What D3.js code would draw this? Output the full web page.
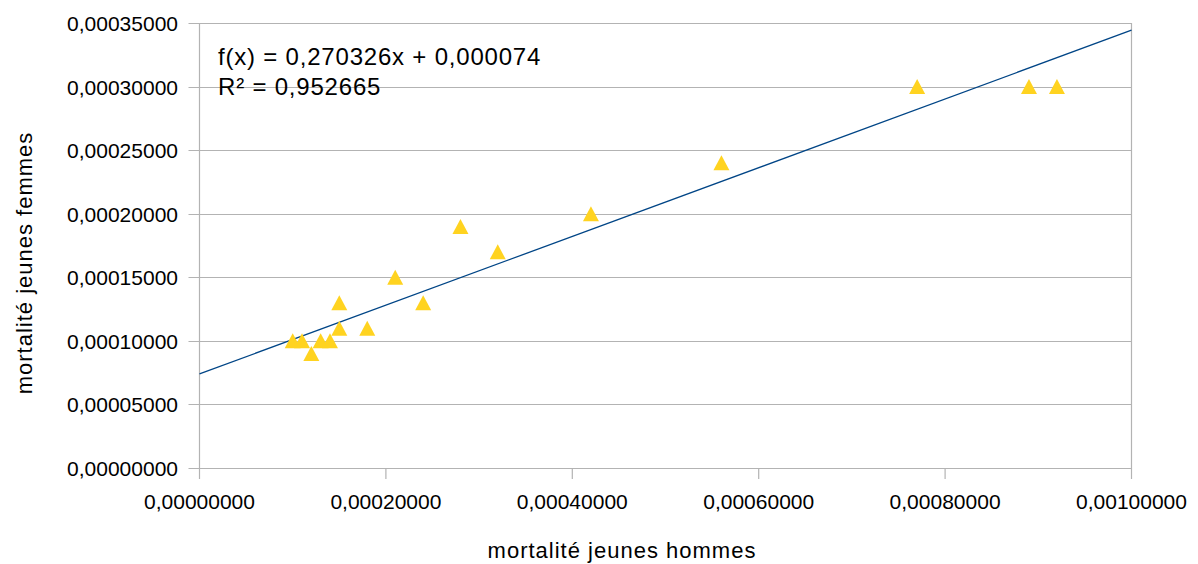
<!DOCTYPE html>
<html>
<head>
<meta charset="utf-8">
<script src="https://cdn.jsdelivr.net/npm/d3@7"></script>
<style>
  body { margin: 0; background: #fff; }
  svg text { font-family: "Liberation Sans", Arial, sans-serif; fill: #000; }
</style>
</head>
<body>
<div id="chart"></div>
<script>
// mortalité jeunes hommes vs jeunes femmes, scatter + linear trend

const hommes = [0.00010, 0.00011, 0.00012, 0.00013, 0.00014, 0.00015, 0.00015, 0.00018,
  0.00021, 0.00024, 0.00028, 0.00032, 0.00042, 0.00056, 0.00077, 0.00089, 0.00092];
const femmes = [0.00010, 0.00010, 0.00009, 0.00010, 0.00010, 0.00011, 0.00013, 0.00011,
  0.00015, 0.00013, 0.00019, 0.00017, 0.00020, 0.00024, 0.00030, 0.00030, 0.00030];

const xTicks = [0, 0.0002, 0.0004, 0.0006, 0.0008, 0.001];
const yTicks = [0, 0.00005, 0.0001, 0.00015, 0.0002, 0.00025, 0.0003, 0.00035];

const slope = 0.270326, intercept = 0.000074;
const eqLines = ["f(x) = 0,270326x + 0,000074", "R² = 0,952665"];

const W = 1198, H = 564;
const pLeft = 199.5, pRight = 1131.5, pTop = 23, pBottom = 468;

const fmt = v => v.toFixed(8).replace(".", ",");

const svg = d3.select("#chart").append("svg")
  .attr("width", W).attr("height", H);

const x = d3.scaleLinear().domain([0, 0.001]).range([pLeft, pRight]);
const y = d3.scaleLinear().domain([0, 0.00035]).range([pBottom, pTop]);

// horizontal grid + y ticks
svg.append("g").selectAll("line")
  .data(yTicks).enter().append("line")
  .attr("x1", pLeft - 11).attr("x2", pRight)
  .attr("y1", d => Math.round(y(d)) + 0.5).attr("y2", d => Math.round(y(d)) + 0.5)
  .attr("stroke", "#b3b3b3").attr("stroke-width", 1.2);

// x ticks
svg.append("g").selectAll("line")
  .data(xTicks).enter().append("line")
  .attr("x1", d => x(d)).attr("x2", d => x(d))
  .attr("y1", pBottom).attr("y2", pBottom + 11)
  .attr("stroke", "#b3b3b3").attr("stroke-width", 1.2);

// left / right border
svg.append("line").attr("x1", pLeft).attr("x2", pLeft).attr("y1", pTop).attr("y2", pBottom)
  .attr("stroke", "#b3b3b3").attr("stroke-width", 1.2);
svg.append("line").attr("x1", pRight).attr("x2", pRight).attr("y1", pTop).attr("y2", pBottom)
  .attr("stroke", "#b3b3b3").attr("stroke-width", 1.2);

// tick labels
svg.append("g").selectAll("text")
  .data(yTicks).enter().append("text")
  .attr("x", 178).attr("y", d => y(d) + 8)
  .attr("text-anchor", "end")
  .style("font-size", "21px")
  .text(fmt);

svg.append("g").selectAll("text")
  .data(xTicks).enter().append("text")
  .attr("x", d => x(d)).attr("y", 509)
  .attr("text-anchor", "middle")
  .style("font-size", "21px")
  .text(fmt);

// trend line
svg.append("line")
  .attr("x1", x(0)).attr("y1", y(intercept))
  .attr("x2", x(0.001)).attr("y2", y(slope * 0.001 + intercept))
  .attr("stroke", "#004586").attr("stroke-width", 1.3);

// triangles
const pts = hommes.map((h, i) => ({ h, f: femmes[i] }));
svg.append("g").selectAll("path")
  .data(pts).enter().append("path")
  .attr("transform", d => `translate(${x(d.h)},${y(d.f)})`)
  .attr("d", "M0,-7.5L8,7.5L-8,7.5Z")
  .attr("fill", "#ffd320");

// equation
svg.append("g").selectAll("text")
  .data(eqLines).enter().append("text")
  .attr("x", 218).attr("y", (d, i) => 65 + i * 30)
  .style("font-size", "24px")
  .style("letter-spacing", "0.8px")
  .text(d => d);

// axis titles
svg.append("text")
  .attr("x", 622).attr("y", 558)
  .attr("text-anchor", "middle")
  .style("font-size", "22px")
  .style("letter-spacing", "1px")
  .text("mortalité jeunes hommes");

svg.append("text")
  .attr("transform", "translate(32,263) rotate(-90)")
  .attr("text-anchor", "middle")
  .style("font-size", "22px")
  .style("letter-spacing", "1px")
  .text("mortalité jeunes femmes");
</script>
</body>
</html>
